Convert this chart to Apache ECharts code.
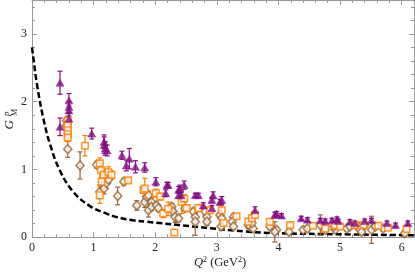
<!DOCTYPE html>
<html>
<head>
<meta charset="utf-8">
<script src="https://cdn.jsdelivr.net/npm/echarts@6/dist/echarts.min.js"></script>
<style>
html,body{margin:0;padding:0;background:#fff;}
#chart{width:415px;height:274px;}
</style>
</head>
<body>
<div id="chart"></div>
<script>
// ---- Data ----
var xTicks = [0, 1, 2, 3, 4, 5, 6];
var yTicks = [0, 1, 2, 3];

// Dashed curve
var curveQ2 = [0, 0.02, 0.08, 0.18, 0.29, 0.45, 0.67, 0.94, 1.21, 1.37, 1.64, 1.86, 2.65, 3.46, 4.0, 5.0, 6.2];
var curveG  = [2.8, 2.66, 2.26, 1.77, 1.38, 0.99, 0.67, 0.46, 0.35, 0.30, 0.25, 0.23, 0.156, 0.085, 0.06, 0.045, 0.03];

// Purple triangles
var purpleQ2  = [0.455,0.455,0.60,0.60,0.60,0.60,0.97,1.17,1.17,1.19,1.22,1.46,1.58,1.53,1.68,1.83,2.01,2.19,2.21,2.17,2.38,2.40,2.47,2.38,2.42,2.65,2.70,2.78,2.94,2.92,3.08,3.05,2.92,3.62,3.94,3.97,4.05,4.37,4.47,4.68,4.76,4.87,4.95,4.97,5.16,5.24,5.40,5.51,5.76,5.90,6.10];
var purpleG   = [2.28,1.63,2.02,1.92,1.87,1.75,1.53,1.41,1.36,1.31,1.28,1.21,1.16,1.06,1.04,1.03,0.82,0.77,0.77,0.65,0.70,0.72,0.77,0.62,0.62,0.62,0.62,0.47,0.62,0.55,0.55,0.52,0.43,0.40,0.33,0.35,0.32,0.28,0.26,0.25,0.24,0.25,0.27,0.24,0.23,0.21,0.24,0.25,0.21,0.18,0.21];
var purpleErr = [0.17,0.13,0.10,0.08,0.08,0.08,0.08,0.10,0.12,0.10,0.08,0.06,0.15,0.08,0.09,0.07,0.06,0.04,0.04,0.05,0.05,0.05,0.06,0.04,0.04,0.03,0.03,0.04,0.05,0.04,0.05,0.04,0.04,0.05,0.04,0.03,0.03,0.03,0.03,0.03,0.03,0.03,0.03,0.03,0.03,0.03,0.03,0.03,0.03,0.03,0.03];

// Orange open squares
var orangeQ2  = [0.58,0.58,0.58,0.58,0.58,0.86,1.10,1.12,1.16,1.13,1.10,1.24,1.29,1.56,1.81,1.83,2.01,2.08,2.13,2.21,2.31,2.43,2.47,2.51,2.70,2.89,3.08,3.11,3.32,3.51,3.57,3.62,3.86,4.19,4.56,4.76,4.92,5.00,5.24,5.38,5.62,5.78,6.08];
var orangeG   = [1.72,1.65,1.58,1.52,1.47,1.35,1.09,0.99,0.92,0.82,0.62,0.96,0.92,0.84,0.70,0.72,0.65,0.60,0.35,0.42,0.07,0.52,0.57,0.43,0.43,0.40,0.40,0.21,0.31,0.23,0.28,0.33,0.23,0.18,0.17,0.13,0.18,0.16,0.18,0.18,0.17,0.14,0.12];
var orangeErr = [0.06,0.06,0.06,0.06,0.06,0.15,0.08,0.10,0.10,0.10,0.12,0.08,0.06,0.03,0.05,0.15,0.06,0.05,0.06,0.10,0.04,0.17,0.06,0.05,0.05,0.05,0.08,0.04,0.04,0.05,0.05,0.04,0.04,0.03,0.03,0.04,0.04,0.03,0.05,0.05,0.04,0.03,0.04];

// Brown open diamonds
var brownQ2  = [0.56,0.56,0.58,0.78,1.05,1.10,1.17,1.21,1.24,1.39,1.49,1.70,1.83,1.86,1.89,1.94,1.89,1.94,2.02,2.05,2.27,2.29,2.32,2.38,2.48,2.62,2.65,2.65,2.81,2.84,2.84,3.05,3.08,3.07,3.27,3.25,3.27,3.51,3.54,3.59,3.57,3.86,3.97,3.94,4.17,4.40,4.47,4.68,4.76,4.92,4.90,5.11,5.16,5.30,5.32,5.35,5.40,5.51,5.57,5.70,6.05];
var brownG   = [1.72,1.65,1.30,1.06,1.07,0.67,0.72,0.80,0.85,0.61,0.82,0.47,0.52,0.60,0.62,0.52,0.40,0.45,0.47,0.43,0.45,0.38,0.30,0.28,0.43,0.38,0.30,0.23,0.38,0.30,0.23,0.33,0.28,0.16,0.30,0.23,0.16,0.18,0.16,0.13,0.21,0.16,0.11,0.08,0.08,0.11,0.13,0.18,0.11,0.11,0.16,0.13,0.16,0.16,0.11,0.08,0.18,0.11,0.16,0.13,0.06];
var brownErr = [0.05,0.05,0.12,0.20,0.05,0.10,0.08,0.08,0.06,0.13,0.05,0.07,0.08,0.08,0.06,0.06,0.10,0.06,0.05,0.05,0.05,0.05,0.08,0.05,0.05,0.05,0.05,0.20,0.05,0.05,0.05,0.04,0.04,0.04,0.04,0.04,0.04,0.04,0.04,0.04,0.04,0.04,0.04,0.15,0.04,0.04,0.04,0.15,0.05,0.04,0.04,0.04,0.04,0.04,0.05,0.05,0.05,0.20,0.05,0.04,0.04];

var PURPLE = '#850f85', ORANGE = '#ff8000', BROWN = '#996633';

function zip3(a, b, c) { return a.map(function (v, i) { return [v, b[i], c[i]]; }); }

function errSeries(data, color) {
  return {
    type: 'custom',
    data: data,
    silent: true,
    z: 3,
    renderItem: function (params, api) {
      var x = api.value(0), y = api.value(1), e = api.value(2);
      var hi = api.coord([x, y + e]);
      var lo = api.coord([x, y - e]);
      var cap = 2.5;
      var st = { stroke: color, lineWidth: 1.2 };
      return {
        type: 'group',
        children: [
          { type: 'line', shape: { x1: hi[0], y1: hi[1], x2: lo[0], y2: lo[1] }, style: st },
          { type: 'line', shape: { x1: hi[0] - cap, y1: hi[1], x2: hi[0] + cap, y2: hi[1] }, style: st },
          { type: 'line', shape: { x1: lo[0] - cap, y1: lo[1], x2: lo[0] + cap, y2: lo[1] }, style: st }
        ]
      };
    }
  };
}

var brownData = zip3(brownQ2, brownG, brownErr);
var orangeData = zip3(orangeQ2, orangeG, orangeErr);
var purpleData = zip3(purpleQ2, purpleG, purpleErr);

var FRAME = '#999999';
var SERIF = '"Liberation Serif", "DejaVu Serif", serif';

function axisX(pos, showLabel) {
  return {
    type: 'value', position: pos, min: 0, max: 6.2, interval: 1,
    axisLine: { show: true, onZero: false, lineStyle: { color: FRAME, width: 1 } },
    axisTick: { show: true, inside: true, length: 5, lineStyle: { color: FRAME } },
    minorTick: { show: true, splitNumber: 5, length: 3, lineStyle: { color: FRAME } },
    splitLine: { show: false },
    axisLabel: { show: showLabel, margin: 5, color: '#222', fontFamily: SERIF, fontSize: 12,
      showMaxLabel: false, showMinLabel: true,
      formatter: function (v) { return xTicks.indexOf(v) >= 0 ? String(v) : ''; } }
  };
}
function axisY(pos, showLabel) {
  return {
    type: 'value', position: pos, min: 0, max: 3.5, interval: 1,
    axisLine: { show: true, onZero: false, lineStyle: { color: FRAME, width: 1 } },
    axisTick: { show: true, inside: true, length: 5, lineStyle: { color: FRAME } },
    minorTick: { show: true, splitNumber: 5, length: 3, lineStyle: { color: FRAME } },
    splitLine: { show: false },
    axisLabel: { show: showLabel, margin: 5, color: '#222', fontFamily: SERIF, fontSize: 12,
      showMaxLabel: false,
      formatter: function (v) { return yTicks.indexOf(v) >= 0 ? String(v) : ''; } }
  };
}

var chart = echarts.init(document.getElementById('chart'), null, { renderer: 'canvas' });
chart.setOption({
  animation: false,
  backgroundColor: '#ffffff',
  grid: { left: 32, right: 1, top: 0, bottom: 36.7, containLabel: false },
  xAxis: [axisX('bottom', true), axisX('top', false)],
  yAxis: [axisY('left', true), axisY('right', false)],
  graphic: [
    {
      type: 'text', left: 194, top: 256,
      style: {
        text: '{q|Q}{s|2}{t| (GeV}{s|2}{t|)}',
        rich: {
          q: { fontFamily: SERIF, fontStyle: 'italic', fontSize: 12.5, lineHeight: 14, fill: '#222' },
          t: { fontFamily: SERIF, fontSize: 12.5, lineHeight: 14, fill: '#222' },
          s: { fontFamily: SERIF, fontSize: 8, lineHeight: 14, verticalAlign: 'top', fill: '#222' }
        }
      }
    },
    {
      type: 'group', left: 2, top: 109,
      children: [
        {
          type: 'group', rotation: Math.PI / 2,
          children: [
            { type: 'text', x: -2, y: 0, style: { text: 'G', fontFamily: SERIF, fontStyle: 'italic', fontSize: 13, fill: '#222', align: 'right', verticalAlign: 'middle' } },
            { type: 'text', x: 2, y: -3, style: { text: 'p', fontFamily: SERIF, fontStyle: 'italic', fontSize: 9, fill: '#222', align: 'left', verticalAlign: 'middle' } },
            { type: 'text', x: 2, y: 5, style: { text: 'M', fontFamily: SERIF, fontSize: 8, fill: '#222', align: 'left', verticalAlign: 'middle' } }
          ]
        }
      ]
    }
  ],
  series: [
    {
      type: 'line', data: curveQ2.map(function (q, i) { return [q, curveG[i]]; }),
      smooth: 0.4, symbol: 'none', z: 2,
      lineStyle: { color: '#000', width: 2.5, type: [6, 3] }
    },
    errSeries(brownData, BROWN),
    { type: 'scatter', data: brownData, symbol: 'diamond', symbolSize: [8, 9], z: 4,
      itemStyle: { color: '#fff', borderColor: BROWN, borderWidth: 1.6 } },
    errSeries(orangeData, ORANGE),
    { type: 'scatter', data: orangeData, symbol: 'rect', symbolSize: 6.5, z: 5,
      itemStyle: { color: '#fff', borderColor: ORANGE, borderWidth: 1.6 } },
    errSeries(purpleData, PURPLE),
    { type: 'scatter', data: purpleData, symbol: 'triangle', symbolSize: [8, 7], z: 6,
      itemStyle: { color: PURPLE, borderColor: PURPLE, borderWidth: 0.5 } }
  ]
});
</script>
</body>
</html>
